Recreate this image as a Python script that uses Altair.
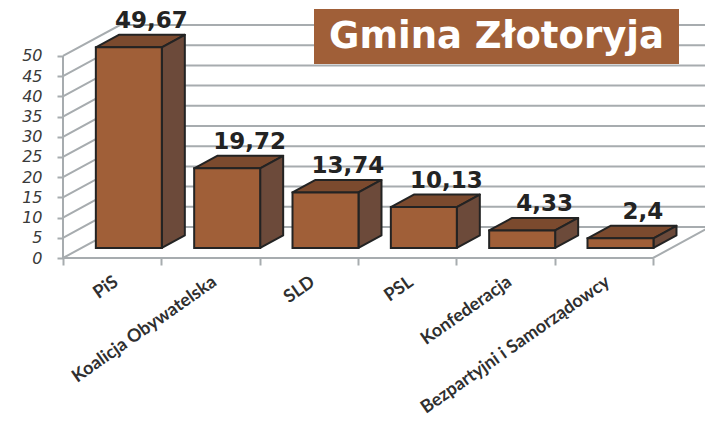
import altair as alt
import pandas as pd

categories = ["PiS", "Koalicja Obywatelska", "SLD", "PSL", "Konfederacja", "Bezpartyjni i Samorządowcy"]
values = [49.67, 19.72, 13.74, 10.13, 4.33, 2.4]
value_labels = ["49,67", "19,72", "13,74", "10,13", "4,33", "2,4"]
y_ticks = [0, 5, 10, 15, 20, 25, 30, 35, 40, 45, 50]
title_text = "Gmina Złotoryja"

# 3-D projection parameters, in axis units
WALL_DX, WALL_DY = 0.58, 7.67
BAR_W, BAR_DX, BAR_DY, BAR_BASE = 0.671, 0.234, 3.1, 2.48
X_MAX, Y_MAX = 6.529, 57.67

GRID = "#a7acaf"
INK = "#232323"
FRONT, TOP, SIDE = "#a05f38", "#7b4a2e", "#6c4a3a"

x_scale = alt.Scale(domain=[0, X_MAX], nice=False, zero=False)
y_scale = alt.Scale(domain=[0, Y_MAX], nice=False, zero=False)
x_enc = alt.X("x:Q", scale=x_scale, axis=alt.Axis(
    title=None, values=list(range(7)), domain=False, grid=False,
    tickColor=GRID, tickWidth=2, tickSize=7,
    labelExpr="[" + ",".join(repr(c) for c in categories) + ",''][datum.value]",
    labelAngle=-35, labelAlign="right", labelBaseline="middle", labelOffset=53,
    labelPadding=15, labelOverlap=False, labelBound=False, labelFlush=False, labelLimit=500,
    labelFont="Lato", labelFontWeight="bold", labelFontSize=18, labelColor="#2f2f2f"))
y_enc = alt.Y("y:Q", scale=y_scale, axis=alt.Axis(
    title=None, values=y_ticks, domain=False, grid=False, labelOverlap=False,
    tickColor=GRID, tickWidth=2, tickSize=6, labelPadding=15,
    labelFont="DejaVu Sans", labelFontStyle="italic", labelFontSize=16, labelColor="#3a3a3a"))

grid_rows = []
for v in y_ticks:
    grid_rows += [
        {"v": v, "o": 0, "x": 0, "y": v},
        {"v": v, "o": 1, "x": WALL_DX, "y": v + WALL_DY},
        {"v": v, "o": 2, "x": X_MAX, "y": v + WALL_DY},
    ]
grid = alt.Chart(pd.DataFrame(grid_rows)).mark_line(color=GRID, strokeWidth=2, clip=False).encode(
    x=x_enc, y=y_enc, detail="v:N", order="o:Q")

frame_rows = [
    {"g": "left", "o": 0, "x": 0, "y": 0}, {"g": "left", "o": 1, "x": 0, "y": 50},
    {"g": "floor", "o": 0, "x": 0, "y": 0}, {"g": "floor", "o": 1, "x": 6, "y": 0},
    {"g": "floor", "o": 2, "x": 6 + WALL_DX, "y": WALL_DY},
]
frame = alt.Chart(pd.DataFrame(frame_rows)).mark_line(color=GRID, strokeWidth=2, clip=False).encode(
    x=x_enc, y=y_enc, detail="g:N", order="o:Q")

front_rows, top_rows, side_rows = [], [], []
for i, v in enumerate(values):
    x1 = i + 1.005
    x0 = x1 - BAR_W
    b = BAR_BASE
    t = b + v
    front_rows.append({"c": i, "x": x0, "x2": x1, "y": b, "y2": t})
    corners_top = [(x0, t), (x1, t), (x1 + BAR_DX, t + BAR_DY), (x0 + BAR_DX, t + BAR_DY)]
    corners_side = [(x1, b), (x1 + BAR_DX, b + BAR_DY), (x1 + BAR_DX, t + BAR_DY), (x1, t)]
    for o, (x, y) in enumerate(corners_top):
        top_rows.append({"c": i, "o": o, "x": x, "y": y})
    for o, (x, y) in enumerate(corners_side):
        side_rows.append({"c": i, "o": o, "x": x, "y": y})

def face(rows, color):
    return alt.Chart(pd.DataFrame(rows)).mark_line(
        interpolate="linear-closed", fill=color, stroke=INK, strokeWidth=2, strokeJoin="round", clip=False
    ).encode(x=x_enc, y=y_enc, detail="c:N", order="o:Q")

tops = face(top_rows, TOP)
sides = face(side_rows, SIDE)
fronts = alt.Chart(pd.DataFrame(front_rows)).mark_rect(fill=FRONT, stroke=INK, strokeWidth=2, clip=False).encode(
    x=x_enc, x2="x2:Q", y=y_enc, y2="y2:Q")

label_df = pd.DataFrame({
    "x": [i + 1 for i in range(len(values))],
    "y": [BAR_BASE + v + BAR_DY for v in values],
    "t": value_labels,
})
labels = alt.Chart(label_df).mark_text(
    font="DejaVu Sans", fontWeight="bold", fontSize=23, color=INK, align="center", baseline="middle", dx=-10, dy=-14, clip=False
).encode(x=x_enc, y=y_enc, text="t:N")

title_df = pd.DataFrame({"t": [title_text]})
title_box = alt.Chart(title_df).mark_rect(fill=FRONT, clip=False).encode(
    x=alt.value(251), x2=alt.value(616), y=alt.value(-16), y2=alt.value(39))
title_lbl = alt.Chart(title_df).mark_text(
    font="DejaVu Sans", fontWeight="bold", fontSize=37, color="#ffffff", align="center", baseline="middle", clip=False
).encode(x=alt.value(433.5), y=alt.value(12), text="t:N")

chart = alt.layer(grid, frame, tops, sides, fronts, labels, title_box, title_lbl).properties(
    width=642, height=233,
    padding={"left": 55, "top": 17, "right": 0, "bottom": 163},
    autosize=alt.AutoSizeParams(type="none"),
    background="#ffffff",
).configure_view(stroke=None)

chart.save("out.html", embed_options={"renderer": "svg", "actions": False})
